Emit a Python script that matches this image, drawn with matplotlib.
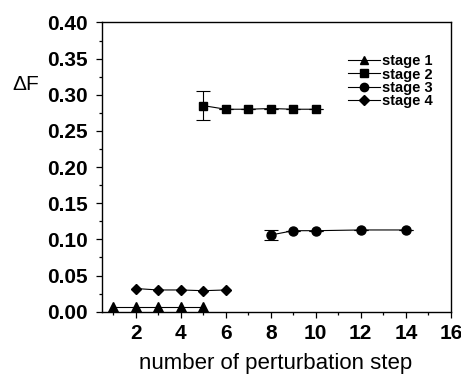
import matplotlib
matplotlib.use("Agg")
import matplotlib.pyplot as plt
from matplotlib.ticker import MultipleLocator
from matplotlib.lines import Line2D

plt.rcParams['font.family'] = ['Liberation Sans', 'DejaVu Sans']

s1_x = [1, 2, 3, 4, 5]
s1_y = [0.006, 0.006, 0.006, 0.006, 0.006]
s2_x = [5, 6, 7, 8, 9, 10]
s2_y = [0.285, 0.280, 0.280, 0.281, 0.280, 0.280]
s2_err = [0.020, 0, 0, 0, 0, 0]
s3_x = [8, 9, 10, 12, 14]
s3_y = [0.106, 0.112, 0.112, 0.113, 0.113]
s3_err = [0.007, 0, 0, 0, 0]
s4_x = [2, 3, 4, 5, 6]
s4_y = [0.032, 0.030, 0.030, 0.029, 0.030]
labels = ["stage 1", "stage 2", "stage 3", "stage 4"]
markers = ['^', 's', 'o', 'D']

fig = plt.figure(figsize=(4.61, 3.81), dpi=100)
ax = fig.add_axes([0.221, 0.182, 0.757, 0.759])

ms = 6.5
lw = 0.8
ax.plot(s1_x, s1_y, '-', color='black', lw=lw, marker='^', ms=ms)
ax.errorbar(s2_x, s2_y, yerr=s2_err, fmt='-', color='black', lw=lw, marker='s', ms=ms - 0.5,
            capsize=5, elinewidth=0.8, capthick=0.8)
ax.errorbar(s3_x, s3_y, yerr=s3_err, fmt='-', color='black', lw=lw, marker='o', ms=ms,
            capsize=5, elinewidth=0.8, capthick=0.8)
ax.plot(s4_x, s4_y, '-', color='black', lw=lw, marker='D', ms=ms - 1)

ax.set_xlim(0.5, 16)
ax.set_ylim(0, 0.40)
ax.xaxis.set_minor_locator(MultipleLocator(1))
ax.yaxis.set_minor_locator(MultipleLocator(0.025))
ax.set_xticks(range(2, 17, 2))
ax.set_yticks([i * 0.05 for i in range(9)])
ax.set_yticklabels([f"{i*0.05:.2f}" for i in range(9)])
ax.tick_params(axis='both', which='major', direction='out', length=4, width=0.9, labelsize=15)
ax.tick_params(axis='y', which='major', pad=6)
ax.tick_params(axis='x', which='major', pad=5)
ax.tick_params(axis='both', which='minor', direction='out', length=2, width=0.9)
for lab in ax.get_xticklabels() + ax.get_yticklabels():
    lab.set_fontweight('bold')
for sp in ax.spines.values():
    sp.set_linewidth(1.0)

fig.text(0.056, 0.777, "ΔF", fontsize=15, ha='center', va='center')
fig.text(0.597, 0.045, "number of perturbation step", fontsize=16, ha='center', va='center')

handles = [Line2D([], [], color='black', lw=lw, marker=m, ms=(ms - 1 if m == 'D' else ms - 0.5))
           for m in markers]
ax.legend(handles, labels, loc='upper right', frameon=False, handlelength=2.2,
          handletextpad=0.1, labelspacing=-0.06, bbox_to_anchor=(0.985, 0.935),
          prop={'weight': 'bold', 'size': 10.5})

fig.savefig("out.png", dpi=100)
